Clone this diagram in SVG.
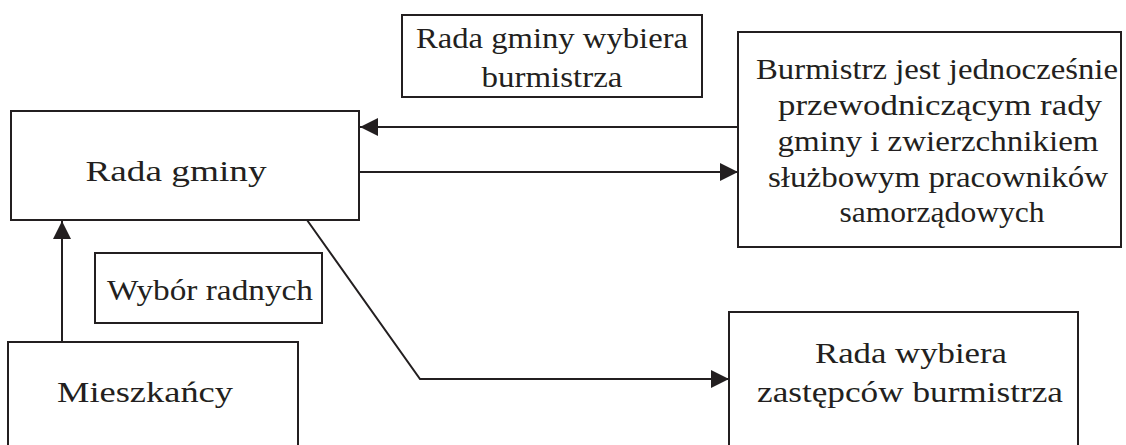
<svg xmlns="http://www.w3.org/2000/svg" width="1126" height="445" viewBox="0 0 1126 445">
  <style>
    .box { fill: #ffffff; stroke: #231f20; stroke-width: 2; }
    .lbl { fill: #231f20; text-anchor: middle; }
    .conn { fill: none; stroke: #231f20; stroke-width: 2; }
  </style>
  <defs>
    <marker id="arrow" viewBox="0 0 18 18" refX="18" refY="9" markerWidth="18" markerHeight="18" markerUnits="userSpaceOnUse" orient="auto">
      <path d="M0,0 L18,9 L0,18 Z" fill="#231f20"/>
    </marker>
  </defs>

  <rect width="1126" height="445" fill="#ffffff"/>

  <!-- labels: 30px serif, widened to their line widths with textLength -->
  <g id="rada-wybiera-burmistrza">
    <rect class="box" x="402" y="15" width="300" height="82"/>
    <text class="lbl" x="552" y="48" font-size="30" font-family="'Liberation Serif'" textLength="272" lengthAdjust="spacingAndGlyphs">Rada gminy wybiera</text>
    <text class="lbl" x="552" y="87" font-size="30" font-family="'Liberation Serif'" textLength="141" lengthAdjust="spacingAndGlyphs">burmistrza</text>
  </g>

  <g id="burmistrz">
    <rect class="box" x="738" y="32" width="383" height="215"/>
    <text class="lbl" x="937" y="79" font-size="30" font-family="'Liberation Serif'" textLength="362" lengthAdjust="spacingAndGlyphs">Burmistrz jest jednocześnie</text>
    <text class="lbl" x="940" y="115" font-size="30" font-family="'Liberation Serif'" textLength="324" lengthAdjust="spacingAndGlyphs">przewodniczącym rady</text>
    <text class="lbl" x="938" y="151" font-size="30" font-family="'Liberation Serif'" textLength="321" lengthAdjust="spacingAndGlyphs">gminy i zwierzchnikiem</text>
    <text class="lbl" x="938" y="187" font-size="30" font-family="'Liberation Serif'" textLength="340" lengthAdjust="spacingAndGlyphs">służbowym pracowników</text>
    <text class="lbl" x="942" y="222" font-size="30" font-family="'Liberation Serif'" textLength="205" lengthAdjust="spacingAndGlyphs">samorządowych</text>
  </g>

  <g id="rada-gminy">
    <rect class="box" x="11" y="111" width="348" height="109"/>
    <text class="lbl" x="176" y="181" font-size="30" font-family="'Liberation Serif'" textLength="181" lengthAdjust="spacingAndGlyphs">Rada gminy</text>
  </g>

  <g id="wybor-radnych">
    <rect class="box" x="95" y="253" width="227" height="70"/>
    <text class="lbl" x="210" y="300" font-size="30" font-family="'Liberation Serif'" textLength="206" lengthAdjust="spacingAndGlyphs">Wybór radnych</text>
  </g>

  <g id="mieszkancy">
    <rect class="box" x="8" y="342" width="290" height="110"/>
    <text class="lbl" x="145" y="402" font-size="30" font-family="'Liberation Serif'" textLength="176" lengthAdjust="spacingAndGlyphs">Mieszkańcy</text>
  </g>

  <g id="rada-wybiera-zastepcow">
    <rect class="box" x="729" y="312" width="349" height="140"/>
    <text class="lbl" x="911" y="363" font-size="30" font-family="'Liberation Serif'" textLength="192" lengthAdjust="spacingAndGlyphs">Rada wybiera</text>
    <text class="lbl" x="910" y="402" font-size="30" font-family="'Liberation Serif'" textLength="306" lengthAdjust="spacingAndGlyphs">zastępców burmistrza</text>
  </g>

  <g id="connectors">
    <line class="conn" x1="738" y1="127" x2="360" y2="127" marker-end="url(#arrow)"/>
    <line class="conn" x1="360" y1="172" x2="738" y2="172" marker-end="url(#arrow)"/>
    <line class="conn" x1="62" y1="342" x2="62" y2="221" marker-end="url(#arrow)"/>
    <polyline class="conn" points="307,220 420,379 729,379" marker-end="url(#arrow)"/>
  </g>
</svg>
